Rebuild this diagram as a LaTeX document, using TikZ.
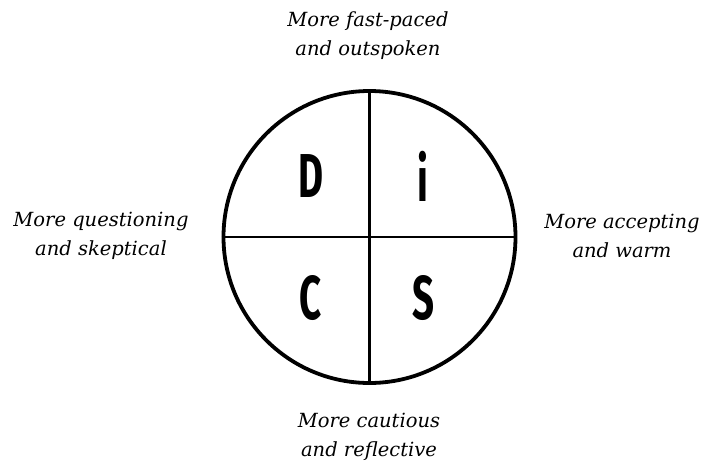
\documentclass[tikz,border=0pt]{standalone}
\usepackage{fontspec}
\usepackage{tikz}
\newfontfamily\labelfont{DejaVu Serif}
\newfontfamily\letterfont{Fira Sans}

\tikzset{
	trait/.style={align=center, inner sep=0pt, font=\labelfont\itshape\fontsize{19.5}{29}\selectfont},
	quadrant/.style={font=\letterfont\bfseries\fontsize{62}{62}\selectfont, inner sep=0pt}
}
\newcommand{\narrow}[1]{\scalebox{0.62}[1]{#1}}

\begin{document}
\begin{tikzpicture}[x=1pt,y=-1pt]
	\useasboundingbox (0,0) rectangle (701,461);

	\node[draw, circle, line width=3.8pt, minimum size=292pt, inner sep=0pt] (disc) at (369.5,237) {};
	\draw[line width=2.2pt] (disc.north) -- (disc.south);
	\draw[line width=2.2pt] (disc.west) -- (disc.east);

	\node[quadrant] (D) at (311.5,176) {\narrow{D}};
	\node[quadrant] (i) at (423,176) {\narrow{i}};
	\node[quadrant] (C) at (311,298) {\narrow{C}};
	\node[quadrant] (S) at (423,298) {\narrow{S}};

	\node[trait] (fast) at (368,36) {More fast-paced\\and outspoken};
	\node[trait] (question) at (101,236) {More questioning\\and skeptical};
	\node[trait] (accept) at (622,236) {More accepting\\and warm};
	\node[trait] (caution) at (369,437) {More cautious\\and reflective};
\end{tikzpicture}
\end{document}
